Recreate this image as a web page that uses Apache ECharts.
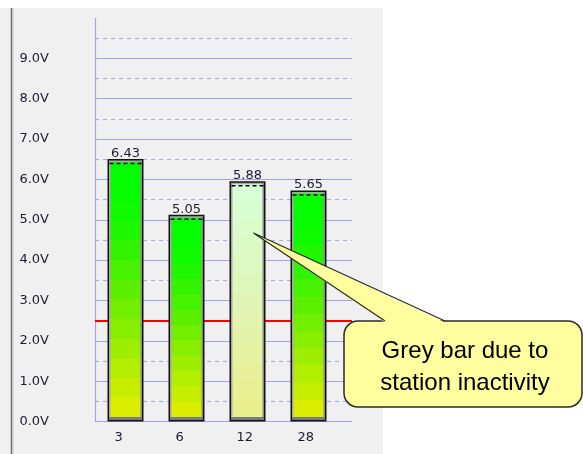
<!DOCTYPE html>
<html>
<head>
<meta charset="utf-8">
<script src="https://cdn.jsdelivr.net/npm/echarts@6/dist/echarts.min.js"></script>
<style>
  html, body { margin: 0; padding: 0; background: #ffffff; }
  #chart { width: 583px; height: 454px; }
</style>
</head>
<body>
<div id="chart"></div>
<script>
// Station battery voltages
const categories = ['3', '6', '12', '28'];
const voltages = [6.43, 5.05, 5.88, 5.65];
const inactive = [false, false, true, false];   // station inactive -> pale bar
const threshold = 2.5;                           // low-voltage warning level
const yMin = 0, yMax = 10, yStep = 1;
const calloutLines = ['Grey bar due to', 'station inactivity'];
const calloutTarget = { index: 2, value: 4.67 };

const FONT = '"DejaVu Sans", Verdana, sans-serif';
const TEXT_COLOR = '#1c1c30';
const GRID_BLUE = '#a2a2f2';

function hexToRgb(h) {
  const n = parseInt(h.slice(1), 16);
  return [(n >> 16) & 255, (n >> 8) & 255, n & 255];
}
function mix(stops, t) {
  for (let k = 1; k < stops.length; k++) {
    if (t <= stops[k][0]) {
      const [t0, c0] = stops[k - 1], [t1, c1] = stops[k];
      const f = (t - t0) / (t1 - t0);
      const a = hexToRgb(c0), b = hexToRgb(c1);
      return 'rgb(' + a.map((v, j) => Math.round(v + (b[j] - v) * f)).join(',') + ')';
    }
  }
  return stops[stops.length - 1][1];
}
// banded vertical gradient
function steppedGradient(stops, steps) {
  const cs = [];
  for (let s = 0; s < steps; s++) {
    const c = mix(stops, (s + 0.5) / steps);
    cs.push({ offset: s / steps, color: c });
    cs.push({ offset: (s + 1) / steps, color: c });
  }
  return new echarts.graphic.LinearGradient(0, 0, 0, 1, cs);
}
const activeStops = [[0, '#00ff00'], [0.15, '#06fd00'], [0.3, '#26f500'], [0.45, '#4ef100'],
                     [0.6, '#78ee00'], [0.75, '#a2ee00'], [0.9, '#caee00'], [1, '#e8ee00']];
const paleStops = [[0, '#d6ffd6'], [0.5, '#e0f5b6'], [1, '#ebee8a']];

function renderBar(params, api) {
  const i = api.value(0);
  const v = api.value(1);
  const pale = api.value(2) === 1;
  const top = api.coord([i, v]);
  const base = api.coord([i, 0]);
  const band = api.size([1, 0])[0];
  const hw = band * 0.295;
  const cx = top[0], yv = top[1], yb = base[1];
  return {
    type: 'group',
    children: [
      { type: 'rect', shape: { x: cx - hw, y: yv - 3, width: 2 * hw, height: yb - yv + 3 },
        style: { fill: '#141414' } },
      { type: 'rect', shape: { x: cx - hw + 1.5, y: yv - 1.5, width: 2 * hw - 3, height: yb - yv },
        style: { fill: '#a8a8a8' } },
      { type: 'rect', shape: { x: cx + hw - 3.5, y: yv - 1.5, width: 2, height: yb - yv },
        style: { fill: '#8a8a8a' } },
      { type: 'rect', shape: { x: cx - hw + 1.5, y: yb - 4.5, width: 2 * hw - 3, height: 3 },
        style: { fill: '#7a7a7a' } },
      { type: 'rect', shape: { x: cx - hw + 3, y: yv, width: 2 * hw - 6, height: yb - 4.5 - yv },
        style: { fill: steppedGradient(pale ? paleStops : activeStops, 13) } },
      { type: 'line', shape: { x1: cx - hw + 2, y1: yv + 1.5, x2: cx + hw - 2, y2: yv + 1.5 },
        style: { stroke: '#000', lineWidth: 1.5, lineDash: [4, 3] } },
      { type: 'text', style: { text: v.toFixed(2), x: cx, y: yv - 2, align: 'center',
        verticalAlign: 'bottom', font: '13px ' + FONT, fill: TEXT_COLOR } }
    ]
  };
}

const chart = echarts.init(document.getElementById('chart'), null, { renderer: 'canvas' });

chart.setOption({
  animation: false,
  backgroundColor: '#ffffff',
  graphic: [
    { id: 'panel', type: 'rect', z: -100, shape: { x: 0, y: 8, width: 383, height: 446 },
      style: { fill: '#f0f0f0' }, silent: true },
    { id: 'edgeDark', type: 'line', z: -99, shape: { x1: 11.5, y1: 8, x2: 11.5, y2: 454 },
      style: { stroke: '#6c6c6c', lineWidth: 1.5 }, silent: true },
    { id: 'edgeLight', type: 'line', z: -99, shape: { x1: 13, y1: 8, x2: 13, y2: 454 },
      style: { stroke: '#c4c4c4', lineWidth: 1 }, silent: true }
  ],
  grid: [
    { left: 95, top: 18, right: 231, bottom: 32.5 },
    { left: 95, top: 18, width: 244, bottom: 32.5 }
  ],
  xAxis: [
    { gridIndex: 0, type: 'value', min: 0, max: 1,
      axisLine: { show: true, lineStyle: { color: GRID_BLUE, width: 1.2 } },
      axisTick: { show: false }, axisLabel: { show: false }, splitLine: { show: false } },
    { gridIndex: 1, type: 'category', data: categories,
      axisLine: { show: false }, axisTick: { show: false }, splitLine: { show: false },
      axisLabel: {
        margin: 10,
        formatter: v => '{a|' + v + '}',
        rich: { a: { width: 22, align: 'left', fontSize: 13, fontFamily: FONT, color: TEXT_COLOR } }
      } }
  ],
  yAxis: [
    { gridIndex: 0, type: 'value', min: yMin, max: yMax, interval: yStep,
      axisLine: { show: true, lineStyle: { color: GRID_BLUE, width: 1.2 } },
      axisTick: { show: false },
      axisLabel: { showMaxLabel: false, margin: 46, fontSize: 13, fontFamily: FONT, color: TEXT_COLOR,
        formatter: v => v.toFixed(1) + 'V' },
      splitLine: { show: true, showMaxLine: false, lineStyle: { color: GRID_BLUE, width: 1.2 } },
      minorTick: { show: false, splitNumber: 2 },
      minorSplitLine: { show: true, lineStyle: { color: '#acacf4', width: 1.2, type: [4, 4] } } },
    { gridIndex: 1, type: 'value', min: yMin, max: yMax, show: false, splitLine: { show: false } }
  ],
  series: [
    { type: 'line', xAxisIndex: 0, yAxisIndex: 0, data: [], z: 1,
      markLine: { z: 1, silent: true, symbol: 'none', label: { show: false },
        lineStyle: { color: '#ff0000', width: 2, type: 'solid' },
        data: [{ yAxis: threshold }] } },
    { type: 'custom', xAxisIndex: 1, yAxisIndex: 1, z: 3,
      renderItem: renderBar,
      encode: { x: 0, y: 1 },
      data: voltages.map((v, i) => [i, v, inactive[i] ? 1 : 0]) }
  ]
});

// speech-bubble note pointing at the inactive station's bar
const tip = chart.convertToPixel({ xAxisIndex: 1, yAxisIndex: 1 }, [calloutTarget.index, calloutTarget.value]);
const tipX = tip[0] + 6, tipY = tip[1];
const box = { x: 344, y: 321, width: 238, height: 86, r: 14 };
const baseL = 385, baseR = 445;
chart.setOption({
  graphic: [
    { id: 'calloutBox', type: 'rect', z: 100,
      shape: { x: box.x, y: box.y, width: box.width, height: box.height, r: box.r },
      style: { fill: '#ffff9f', stroke: '#2a2a2a', lineWidth: 1.5 } },
    { id: 'calloutFill', type: 'polygon', z: 101,
      shape: { points: [[tipX, tipY], [baseL, box.y + 1.5], [baseR, box.y + 1.5]] },
      style: { fill: '#ffff9f' } },
    { id: 'calloutEdges', type: 'polyline', z: 102,
      shape: { points: [[baseL, box.y], [tipX, tipY], [baseR, box.y]] },
      style: { stroke: '#2a2a2a', lineWidth: 1.2, fill: null } },
    { id: 'calloutText', type: 'text', z: 103,
      style: { text: calloutLines.join('\n'), x: box.x + box.width / 2 + 2, y: box.y + box.height / 2 + 3,
        align: 'center', verticalAlign: 'middle', lineHeight: 32,
        font: '24px "Liberation Sans", Arial, sans-serif', fill: '#000' } }
  ]
});
</script>
</body>
</html>
